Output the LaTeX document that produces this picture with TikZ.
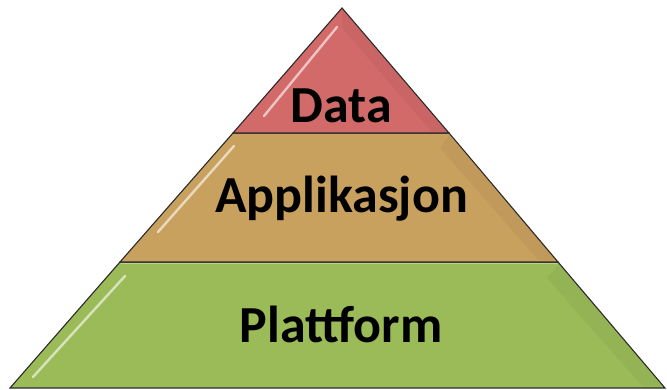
\documentclass[tikz,border=0pt]{standalone}
\usepackage{fontspec}
\usepackage{pdfrender}
\setmainfont{Carlito}
\definecolor{redL}{HTML}{D36A6A}
\definecolor{tanL}{HTML}{C9A15F}
\definecolor{greenL}{HTML}{9BBB59}
\definecolor{glowC}{HTML}{B0602A}
\definecolor{edgeC}{HTML}{2A2A2A}
\newcommand{\glowtext}[1]{\textpdfrender{TextRenderingMode=FillStroke,LineWidth=1.1,StrokeColor=glowC,FillColor=black}{#1}}
\tikzset{
  layer/.style={draw=edgeC, line width=1.1pt, line join=miter},
  hilite/.style={line width=2.4pt, line cap=round, white, opacity=0.6},
  lbl/.style={font=\fontsize{52}{56}\selectfont\bfseries, text=black, anchor=base, inner sep=0pt}
}
\begin{document}
\begin{tikzpicture}[x=1pt,y=-1pt]
\useasboundingbox (0,0) rectangle (667,390);
% layers
\path[layer, fill=greenL] (120,262) coordinate (g1) -- (558,262) coordinate (g2) -- (665,388) coordinate (g3) -- (10,388) coordinate (g4) -- cycle;
\path[layer, fill=tanL] (233,133) coordinate (t1) -- (449,133) coordinate (t2) -- (558,262) -- (120,262) -- cycle;
\path[layer, fill=redL] (342,8) coordinate (r1) -- (449,133) -- (233,133) -- cycle;
% subtle shading towards right edges
\fill[black, opacity=0.04] (342,10) -- (447,132) -- (432,132) -- (342,28) -- cycle;
\fill[black, opacity=0.04] (449,135) -- (556,260) -- (538,260) -- (440,148) -- cycle;
\fill[black, opacity=0.04] (559,264) -- (662,386) -- (642,386) -- (547,278) -- cycle;
% highlights
\draw[hilite] (337,27) -- (264,116);
\draw[hilite] (234,146) -- (158,232);
\draw[hilite] (125,276) -- (33,377);
\draw[white, opacity=0.35, line width=1pt] (121,264) -- (557,264);
% labels
\node[lbl] (d) at (341.5,123) {\glowtext{Data}};
\node[lbl] (a) at (341.5,213) {\glowtext{Applikasjon}};
\node[lbl] (p) at (341,342) {\glowtext{Plattform}};
\end{tikzpicture}
\end{document}
